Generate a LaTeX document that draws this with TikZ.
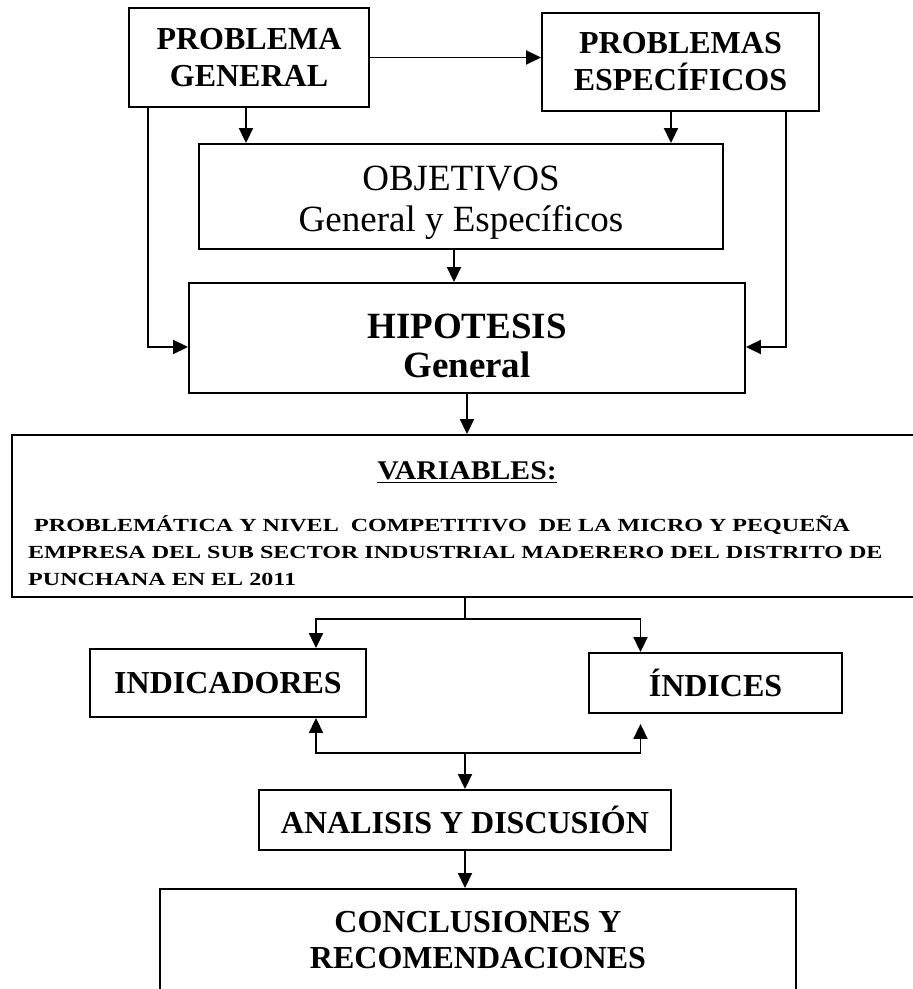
\documentclass[tikz,border=0pt]{standalone}
\usepackage{fontspec}
\setmainfont{Liberation Serif}
\newfontfamily\widefont{Liberation Serif}[FakeStretch=1.3]
\newfontfamily\halfwidefont{Liberation Serif}[FakeStretch=1.1]
\usetikzlibrary{arrows.meta}
\tikzset{
  box/.style={draw,rectangle,line width=1.9pt,inner sep=0pt,align=center},
  flow/.style={line width=1.9pt,-{Triangle[length=15pt,width=14pt]}},
  bigbold/.style={font=\bfseries\fontsize{32}{37}\selectfont}
}
\begin{document}
\begin{tikzpicture}[x=1pt,y=1pt]
\useasboundingbox (0,0) rectangle (913,989);

\node [box,bigbold,minimum width=240pt,minimum height=99pt] (pg) at(249,931.5){PROBLEMA\\GENERAL};
\node [box,bigbold,minimum width=277pt,minimum height=98pt] (pe) at(680.5,927){PROBLEMAS\\ESPECÍFICOS};

\node [box,minimum width=524pt,minimum height=105pt] (obj) at(461,792.5){};
\node [align=center,inner sep=0pt,font=\fontsize{37}{41}\selectfont] (objtxt) at(461,786){OBJETIVOS\\General y Específicos};

\node [box,minimum width=556pt,minimum height=110pt] (hip) at(467,651){};
\node [align=center,inner sep=0pt,font=\bfseries\fontsize{37}{39}\selectfont] (hiptxt) at(467,643){HIPOTESIS\\General};

\node [box,minimum width=918pt,minimum height=162pt] (var) at(471,473){};
\node [anchor=base,inner sep=0pt,font=\halfwidefont\bfseries\fontsize{27}{30}\selectfont] (varhead) at(467,509){\underline{VARIABLES:}};
\node [anchor=base west,align=left,inner sep=0pt,font=\widefont\bfseries\fontsize{18.5}{27}\selectfont] (vartxt) at(28,403){\hspace*{6pt}PROBLEMÁTICA Y NIVEL~ COMPETITIVO~ DE LA MICRO Y PEQUEÑA\\EMPRESA DEL SUB SECTOR INDUSTRIAL MADERERO DEL DISTRITO DE\\PUNCHANA EN EL 2011};

\node [box,bigbold,minimum width=276pt,minimum height=68pt] (ind) at(228,306){INDICADORES};
\node [box,bigbold,minimum width=253pt,minimum height=60pt] (idx) at(715.5,306){ÍNDICES};
\node [box,bigbold,minimum width=412pt,minimum height=60pt] (ana) at(465,169){ANALISIS Y DISCUSIÓN};
\node [box,font=\bfseries\fontsize{32}{36}\selectfont,minimum width=636pt,minimum height=103pt] (concl) at(478,48.5){CONCLUSIONES Y\\RECOMENDACIONES};

\coordinate (split) at (465,370);
\coordinate (join) at (465,236);

\draw[flow] (pg.east) -- (pg.east -| pe.west);
\draw[flow] ([xshift=-3pt]pg.south) -- ([xshift=-3pt]pg.south |- obj.north);
\draw[flow] ([xshift=-9.5pt]pe.south) -- ([xshift=-9.5pt]pe.south |- obj.north);
\draw[flow] ([xshift=-7pt]obj.south) -- ([xshift=-7pt]obj.south |- hip.north);
\draw[flow] ([xshift=20pt]pg.south west) |- ([yshift=-9pt]hip.west);
\draw[flow] ([xshift=-34pt]pe.south east) |- ([yshift=-9pt]hip.east);
\draw[flow] (hip.south) -- (hip.south |- var.north);
\draw[line width=1.9pt] (split |- var.south) -- (split);
\draw[flow] (split) -| ([xshift=88pt]ind.north);
\draw[flow] (split) -| ([xshift=-75pt]idx.north);
\draw[flow] (join) -| ([xshift=88pt]ind.south);
\draw[flow] (join) -| ([xshift=-75pt,yshift=-10pt]idx.south);
\draw[flow] (join) -- (join |- ana.north);
\draw[flow] (ana.south) -- (ana.south |- concl.north);
\end{tikzpicture}
\end{document}
